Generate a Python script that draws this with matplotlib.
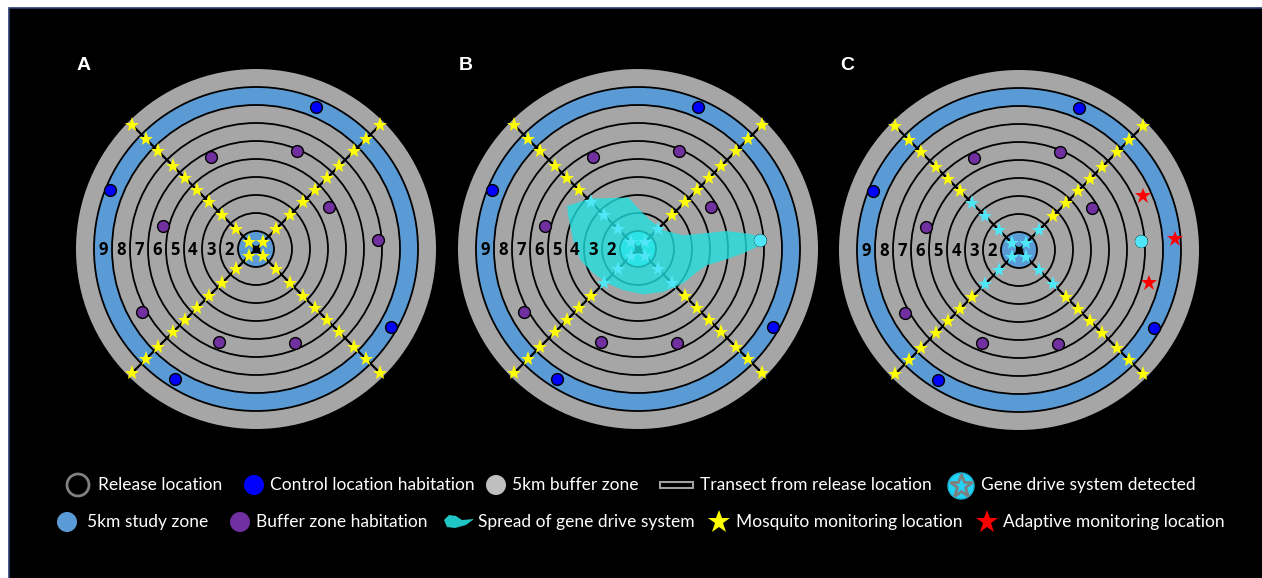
import numpy as np
import matplotlib.pyplot as plt
from matplotlib.patches import Circle, Rectangle, Polygon

# ---- data (positions in ring units, 1 ring = 1 km band) ----
ring_labels = ["2", "3", "4", "5", "6", "7", "8", "9"]
panel_labels = ["A", "B", "C"]

arm_angles = [135, 45, 225, 315]           # transects NW, NE, SW, SE
star_radii = [0.56, 1.56, 2.67, 3.72, 4.67, 5.56, 6.56, 7.67, 8.67, 9.78]
detected_per_arm = [4, 2, 3, 3]             # stars where gene drive detected (B, C)

control_ang = [67, 158, -30, -122]
control_r = [8.56, 8.75, 8.67, 8.5]

buffer_ang = [116, 67, 30, 4, 166, -151, -111.5, -67.4]
buffer_r = [5.67, 5.89, 4.67, 6.81, 5.33, 7.22, 5.56, 5.67]

spread_x = [-3.94, -2.65, -0.52, -0.06, 0.68, 1.41, 2.52, 3.63, 4.94, 6.06, 6.79,
            6.79, 5.85, 4.74, 3.83, 3.28, 2.52, 1.41, 0.29, -0.82, -1.72, -2.48,
            -3.2, -3.6, -3.87]
spread_y = [2.39, 2.8, 2.86, 2.33, 1.6, 1.04, 0.76, 0.87, 1.0, 0.86, 0.7,
            0.2, -0.24, -0.63, -0.9, -1.28, -1.9, -2.39, -2.52, -2.29, -1.9, -1.35,
            -0.63, 0.48, 1.78]
front_xy = (6.8, 0.47)

adaptive_x = [6.89, 8.65, 7.22]
adaptive_y = [3.0, 0.59, -1.85]

legend_row1 = ["Release location", "Control location habitation", "5km buffer zone",
               "Transect from release location", "Gene drive system detected"]
legend_row2 = ["5km study zone", "Buffer zone habitation", "Spread of gene drive system",
               "Mosquito monitoring location", "Adaptive monitoring location"]

# ---- styling ----
GRAY = "#a6a6a6"
BLUE = "#5b9bd5"
CTRL = "#0000ff"
PURP = "#7030a0"
YEL = "#ffff00"
CYAN = "#4fe6f7"
TEAL = "#21e1e1"
R = 18.0
centers = [(256, 249), (638, 249), (1019, 250)]

fig = plt.figure(figsize=(12.62, 5.78), dpi=100)
fig.patch.set_facecolor("white")
ax = fig.add_axes([0, 0, 1, 1])
ax.set_xlim(0, 1262)
ax.set_ylim(578, 0)
ax.axis("off")
ax.add_patch(Rectangle((9, 8), 1262, 580, fc="black", ec="#2b3d6e", lw=1.2, zorder=0))


def pos(cx, cy, ang, r):
    a = np.deg2rad(ang)
    return cx + r * R * np.cos(a), cy - r * R * np.sin(a)


def draw_panel(i, cx, cy):
    ax.add_patch(Circle((cx, cy), 10 * R, fc=GRAY, ec="none", zorder=1))
    ax.add_patch(Circle((cx, cy), 9 * R, fc=BLUE, ec="black", lw=1.3, zorder=1))
    ax.add_patch(Circle((cx, cy), 8 * R, fc=GRAY, ec="black", lw=1.3, zorder=1))
    for k in range(2, 8):
        ax.add_patch(Circle((cx, cy), k * R, fc="none", ec="black", lw=1.3, zorder=2))
    centre_fc = CYAN if i == 1 else BLUE
    ax.add_patch(Circle((cx, cy), R, fc=centre_fc, ec="black", lw=1.3, zorder=2))

    for a in (45, 135):
        x0, y0 = pos(cx, cy, a, 9.85)
        x1, y1 = pos(cx, cy, a + 180, 9.85)
        ax.plot([x0, x1], [y0, y1], color="black", lw=1.6, zorder=3)
    ax.plot(cx, cy, marker="s", ms=5, color="black", zorder=3)

    for k, lab in enumerate(ring_labels):
        ax.text(cx - (k + 1.5) * R, cy + 1, lab, ha="center", va="center",
                fontsize=12, fontweight="bold", family="Open Sans", color="black", zorder=7)

    for a, r in zip(control_ang, control_r):
        x, y = pos(cx, cy, a, r)
        ax.plot(x, y, "o", ms=8.5, mfc=CTRL, mec="black", mew=1, zorder=5)
    for a, r in zip(buffer_ang, buffer_r):
        x, y = pos(cx, cy, a, r)
        ax.plot(x, y, "o", ms=8.5, mfc=PURP, mec="black", mew=1, zorder=5)

    if i == 1:
        px = [cx + v * R for v in spread_x]
        py = [cy - v * R for v in spread_y]
        ax.add_patch(Polygon(np.column_stack([px, py]), closed=True, fc=TEAL,
                             alpha=0.78, ec="none", joinstyle="round", zorder=4))
    if i >= 1:
        ax.add_patch(Circle((cx + front_xy[0] * R, cy - front_xy[1] * R), 6.3,
                            fc=CYAN, ec="none", zorder=5))
    if i == 2:
        ax.plot([cx + v * R for v in adaptive_x], [cy - v * R for v in adaptive_y],
                "*", ms=12, color="red", mew=0, zorder=6)

    for a, nd in zip(arm_angles, detected_per_arm):
        for j, r in enumerate(star_radii):
            x, y = pos(cx, cy, a, r)
            col = CYAN if (i >= 1 and j < nd) else YEL
            ax.plot(x, y, "*", ms=11, color=col, mew=0, zorder=6)

    ax.text(cx - 172, 65, panel_labels[i], color="white", fontsize=14,
            fontweight="bold", family="Liberation Sans", ha="center", va="center")


for i, (cx, cy) in enumerate(centers):
    draw_panel(i, cx, cy)

# ---- legend ----
y1, y2 = 485, 522
tk = dict(color="white", fontsize=12.5, family="Lato", va="center", ha="left")

ax.add_patch(Circle((78, y1), 11, fc="none", ec="#808080", lw=2))
ax.add_patch(Circle((254, y1), 10, fc=CTRL, ec="none"))
ax.add_patch(Circle((496, y1), 10, fc="#bfbfbf", ec="none"))
ax.add_patch(Rectangle((660, y1 - 3), 33, 6, fc="black", ec="#a0a0a0", lw=1.5))
ax.add_patch(Circle((961, y1 + 1), 13, fc="#22d3f5", ec="#1ab0d0", lw=1))
ax.plot(961, y1 + 1, "*", ms=17, mfc="none", mec="#7f7f7f", mew=2)
for x, lab in zip([98, 270, 512, 700, 981], legend_row1):
    ax.text(x, y1, lab, **tk)

ax.add_patch(Circle((67, y2), 10, fc=BLUE, ec="none"))
ax.add_patch(Circle((240, y2), 10, fc=PURP, ec="none"))
ax.add_patch(Polygon([(444, y2 - 2), (449, y2 - 7), (456, y2 - 6), (462, y2 - 2),
                      (474, y2 - 3), (466, y2 + 3), (455, y2 + 6), (447, y2 + 5)],
                     closed=True, fc="#1fc4c4", ec="none"))
ax.plot(719, y2, "*", ms=17, color=YEL, mew=0)
ax.plot(987, y2, "*", ms=17, color="red", mew=0)
for x, lab in zip([87, 256, 478, 736, 1003], legend_row2):
    ax.text(x, y2, lab, **tk)

fig.savefig("out.png", dpi=100, facecolor=fig.get_facecolor())
